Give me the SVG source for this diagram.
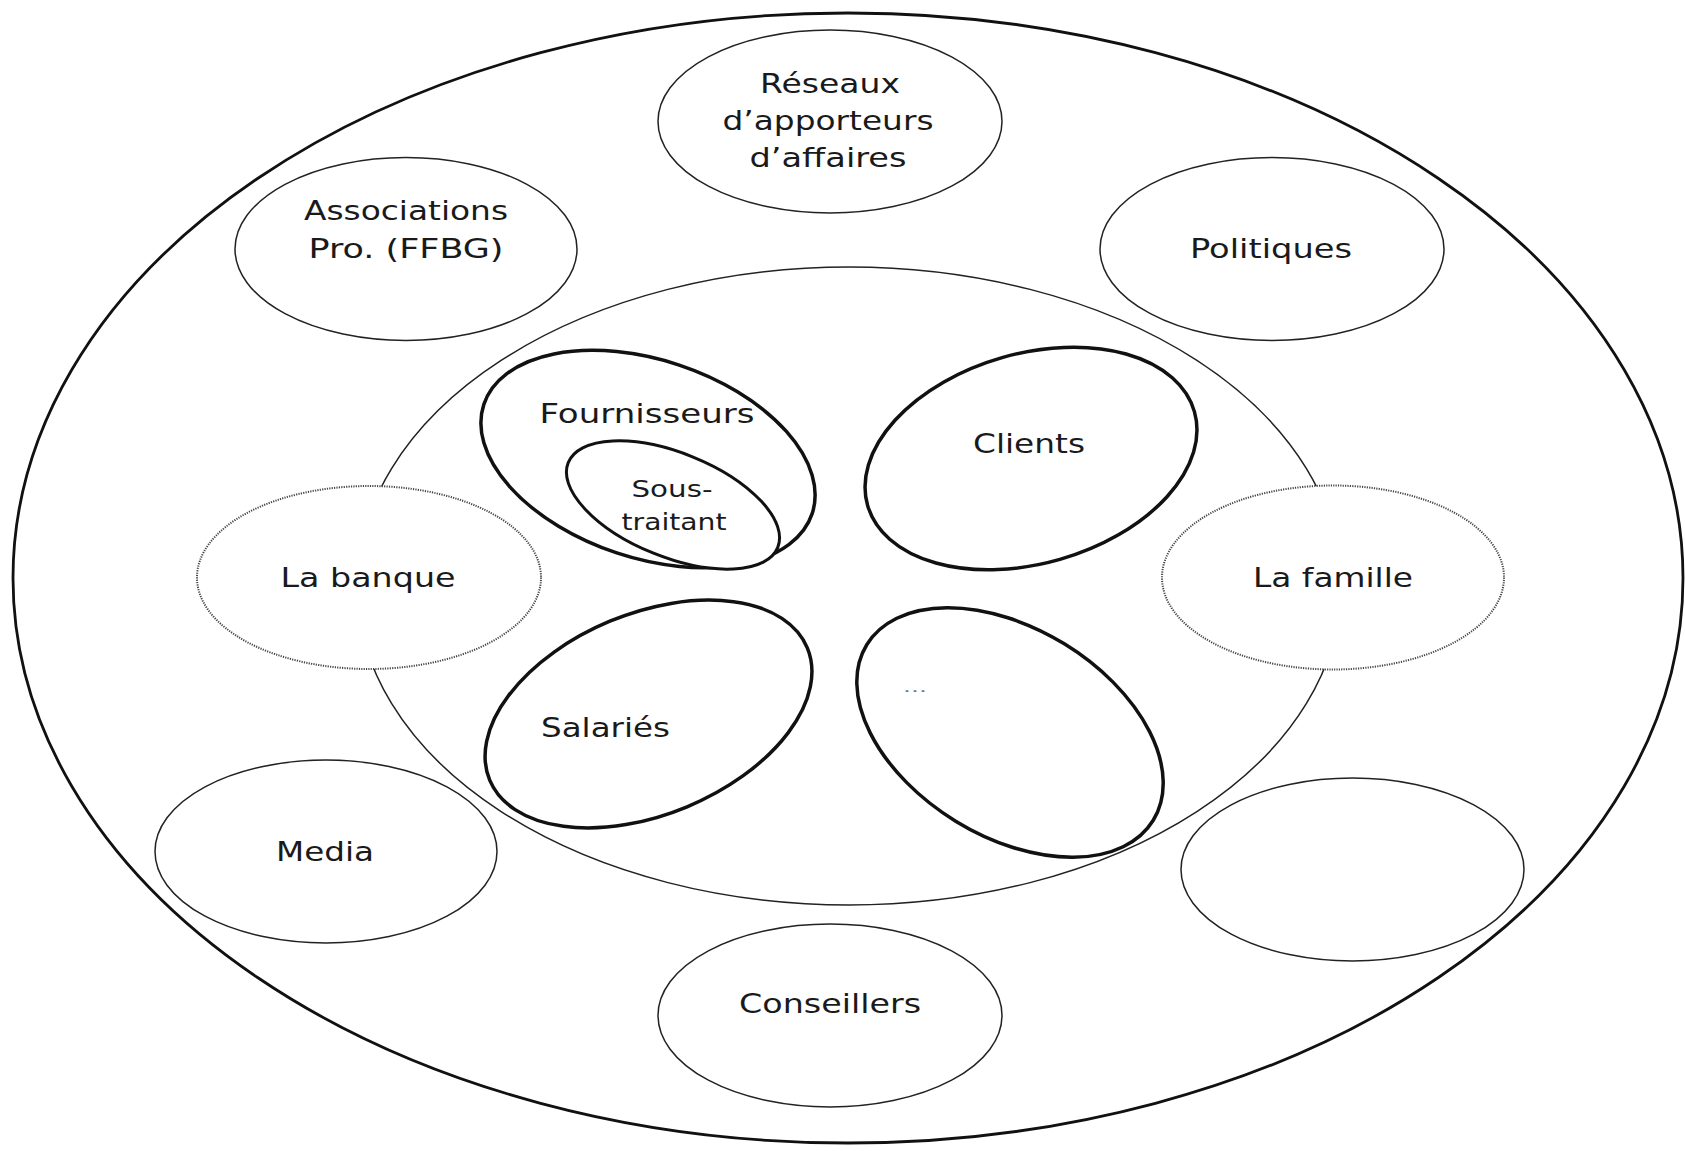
<svg xmlns="http://www.w3.org/2000/svg" width="1685" height="1151" viewBox="0 0 1685 1151">
<style>
  .bg { fill: #ffffff; }
  .outer { fill: #ffffff; stroke: #111; stroke-width: 2.8; }
  .inner { fill: none; stroke: #222; stroke-width: 1.5; }
  .thin { fill: #ffffff; stroke: #222; stroke-width: 1.5; }
  .dotted { fill: #ffffff; stroke: #444; stroke-width: 2; stroke-dasharray: 1.2 1.2; }
  .bold { fill: #ffffff; stroke: #111; stroke-width: 3.5; }
  .lbl { font-family: "DejaVu Sans", Verdana, sans-serif; font-size: 27px; fill: #1a1a1a; text-anchor: middle; }
  .small { font-size: 23px; }
  .dots { font-family: "DejaVu Sans", Verdana, sans-serif; font-size: 14px; fill: #5f7a84; }
</style>
<rect class="bg" x="0" y="0" width="1685" height="1151"/>
<g id="frame">
  <ellipse class="outer" cx="848" cy="578" rx="835" ry="565"/>
  <ellipse class="inner" cx="849" cy="586" rx="492" ry="319"/>
</g>
<g id="connectors"></g>
<g id="node-reseaux">
  <ellipse class="thin" cx="830" cy="121.5" rx="172" ry="91.5"/>
  <text class="lbl" x="830" y="93" textLength="140" lengthAdjust="spacingAndGlyphs">Réseaux</text>
  <text class="lbl" x="828" y="130" textLength="211" lengthAdjust="spacingAndGlyphs">d’apporteurs</text>
  <text class="lbl" x="828" y="167" textLength="157" lengthAdjust="spacingAndGlyphs">d’affaires</text>
</g>
<g id="node-associations">
  <ellipse class="thin" cx="406" cy="249" rx="171" ry="91.5"/>
  <text class="lbl" x="406" y="220" textLength="204" lengthAdjust="spacingAndGlyphs">Associations</text>
  <text class="lbl" x="406" y="258" textLength="195" lengthAdjust="spacingAndGlyphs">Pro. (FFBG)</text>
</g>
<g id="node-politiques">
  <ellipse class="thin" cx="1272" cy="249" rx="172" ry="91.5"/>
  <text class="lbl" x="1271" y="258" textLength="162" lengthAdjust="spacingAndGlyphs">Politiques</text>
</g>
<g id="node-banque">
  <ellipse class="dotted" cx="369" cy="577.5" rx="172" ry="91.5"/>
  <text class="lbl" x="368" y="587" textLength="175" lengthAdjust="spacingAndGlyphs">La banque</text>
</g>
<g id="node-famille">
  <ellipse class="dotted" cx="1333" cy="577.5" rx="171" ry="92"/>
  <text class="lbl" x="1333" y="587" textLength="160" lengthAdjust="spacingAndGlyphs">La famille</text>
</g>
<g id="node-media">
  <ellipse class="thin" cx="326" cy="851.5" rx="171" ry="91.5"/>
  <text class="lbl" x="325" y="861" textLength="98" lengthAdjust="spacingAndGlyphs">Media</text>
</g>
<g id="node-empty">
  <ellipse class="thin" cx="1352.5" cy="869.5" rx="171.5" ry="91.5"/>
</g>
<g id="node-conseillers">
  <ellipse class="thin" cx="830" cy="1015.5" rx="172" ry="91.5"/>
  <text class="lbl" x="830" y="1013" textLength="182" lengthAdjust="spacingAndGlyphs">Conseillers</text>
</g>
<g id="node-fournisseurs">
  <ellipse class="bold" cx="648" cy="459" rx="173" ry="99" transform="rotate(18.4 648 459)"/>
  <text class="lbl" x="647" y="423" textLength="215" lengthAdjust="spacingAndGlyphs">Fournisseurs</text>
</g>
<g id="node-soustraitant">
  <ellipse class="bold" cx="673" cy="505" rx="113" ry="52" transform="rotate(22 673 505)" style="stroke-width:3"/>
  <text class="lbl small" x="672" y="497" textLength="81" lengthAdjust="spacingAndGlyphs">Sous-</text>
  <text class="lbl small" x="674" y="530" textLength="105" lengthAdjust="spacingAndGlyphs">traitant</text>
</g>
<g id="node-clients">
  <ellipse class="bold" cx="1031" cy="458.5" rx="170" ry="105" transform="rotate(-16 1031 458.5)"/>
  <text class="lbl" x="1029" y="453" textLength="112" lengthAdjust="spacingAndGlyphs">Clients</text>
</g>
<g id="node-salaries">
  <ellipse class="bold" cx="648.5" cy="714" rx="172" ry="100.5" transform="rotate(-22.6 648.5 714)"/>
  <text class="lbl" x="605.5" y="737" textLength="129" lengthAdjust="spacingAndGlyphs">Salariés</text>
</g>
<g id="node-etc">
  <ellipse class="bold" cx="1010" cy="732.5" rx="168" ry="104" transform="rotate(31.5 1010 732.5)"/>
  <text class="dots" x="903" y="692" textLength="24" lengthAdjust="spacingAndGlyphs">...</text>
</g>
</svg>
